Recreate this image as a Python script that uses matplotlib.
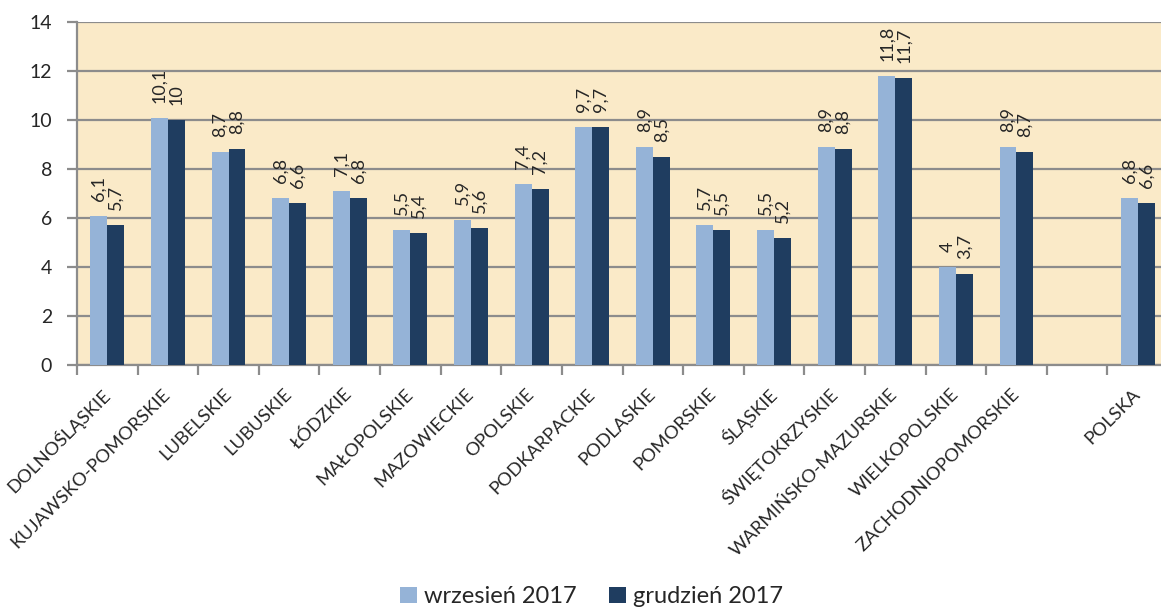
import matplotlib
matplotlib.use("Agg")
import matplotlib.pyplot as plt
from matplotlib.patches import Patch

categories = ["DOLNOŚLĄSKIE", "KUJAWSKO-POMORSKIE", "LUBELSKIE", "LUBUSKIE", "ŁÓDZKIE",
              "MAŁOPOLSKIE", "MAZOWIECKIE", "OPOLSKIE", "PODKARPACKIE", "PODLASKIE",
              "POMORSKIE", "ŚLĄSKIE", "ŚWIĘTOKRZYSKIE", "WARMIŃSKO-MAZURSKIE", "WIELKOPOLSKIE",
              "ZACHODNIOPOMORSKIE", "", "POLSKA"]
wrzesien = [6.1, 10.1, 8.7, 6.8, 7.1, 5.5, 5.9, 7.4, 9.7, 8.9, 5.7, 5.5, 8.9, 11.8, 4.0, 8.9, None, 6.8]
grudzien = [5.7, 10.0, 8.8, 6.6, 6.8, 5.4, 5.6, 7.2, 9.7, 8.5, 5.5, 5.2, 8.8, 11.7, 3.7, 8.7, None, 6.6]
series_names = ["wrzesień 2017", "grudzień 2017"]
yticks = [0, 2, 4, 6, 8, 10, 12, 14]

c_light = "#95B3D7"
c_dark = "#1F3D60"
bg = "#FAEAC8"
grid_c = "#8C8C8C"
txt_c = "#262626"

plt.rcParams['font.family'] = ['Lato', 'DejaVu Sans']

W, H = 1161, 610
fig = plt.figure(figsize=(W / 100, H / 100), dpi=100)
ax = fig.add_axes([77 / W, (H - 365) / H, 1091 / W, 343 / H])
ax.set_facecolor(bg)

n = len(categories)
bw = 0.28

def fmt(v):
    s = ("%.1f" % v).rstrip("0").rstrip(".")
    return s.replace(".", ",")

for i in range(n):
    c = i + 0.5
    for v, off, col in ((wrzesien[i], -bw / 2, c_light), (grudzien[i], bw / 2, c_dark)):
        if v is None:
            continue
        ax.bar(c + off, v, width=bw, color=col, zorder=3)
        ax.annotate(fmt(v), (c + off, v), xytext=(0, 15), textcoords="offset pixels",
                    rotation=90, ha="center", va="bottom", fontsize=13, color=txt_c,
                    zorder=4)

ax.set_xlim(0, n)
ax.set_ylim(0, 14)
ax.set_yticks(yticks)
ax.set_yticklabels([str(t) for t in yticks], fontsize=14, color=txt_c)
ax.yaxis.grid(True, color=grid_c, lw=1.6, zorder=1)
ax.set_axisbelow(True)

ax.set_xticks([i + 0.5 for i in range(n)])
ax.set_xticklabels(categories, rotation=45, ha="right", va="center",
                   rotation_mode="anchor", fontsize=13.3, color=txt_c)
ax.tick_params(axis="x", length=0, pad=19)
ax.set_xticks(range(n + 1), minor=True)
ax.tick_params(axis="x", which="minor", length=7, width=1.6, color=grid_c)
ax.tick_params(axis="y", length=7, width=1.6, color=grid_c, pad=11)

for s in ("top", "right"):
    ax.spines[s].set_visible(False)
for s in ("left", "bottom"):
    ax.spines[s].set_color(grid_c)
    ax.spines[s].set_linewidth(1.6)

handles = [Patch(facecolor=c_light), Patch(facecolor=c_dark)]
fig.legend(handles, series_names, loc="lower center", bbox_to_anchor=(0.5095, -0.03),
           ncol=2, frameon=False, fontsize=17, handlelength=0.7, handleheight=0.7,
           handletextpad=0.3, columnspacing=1.4, labelcolor=txt_c)

fig.savefig("out.png", dpi=100, facecolor="white")
